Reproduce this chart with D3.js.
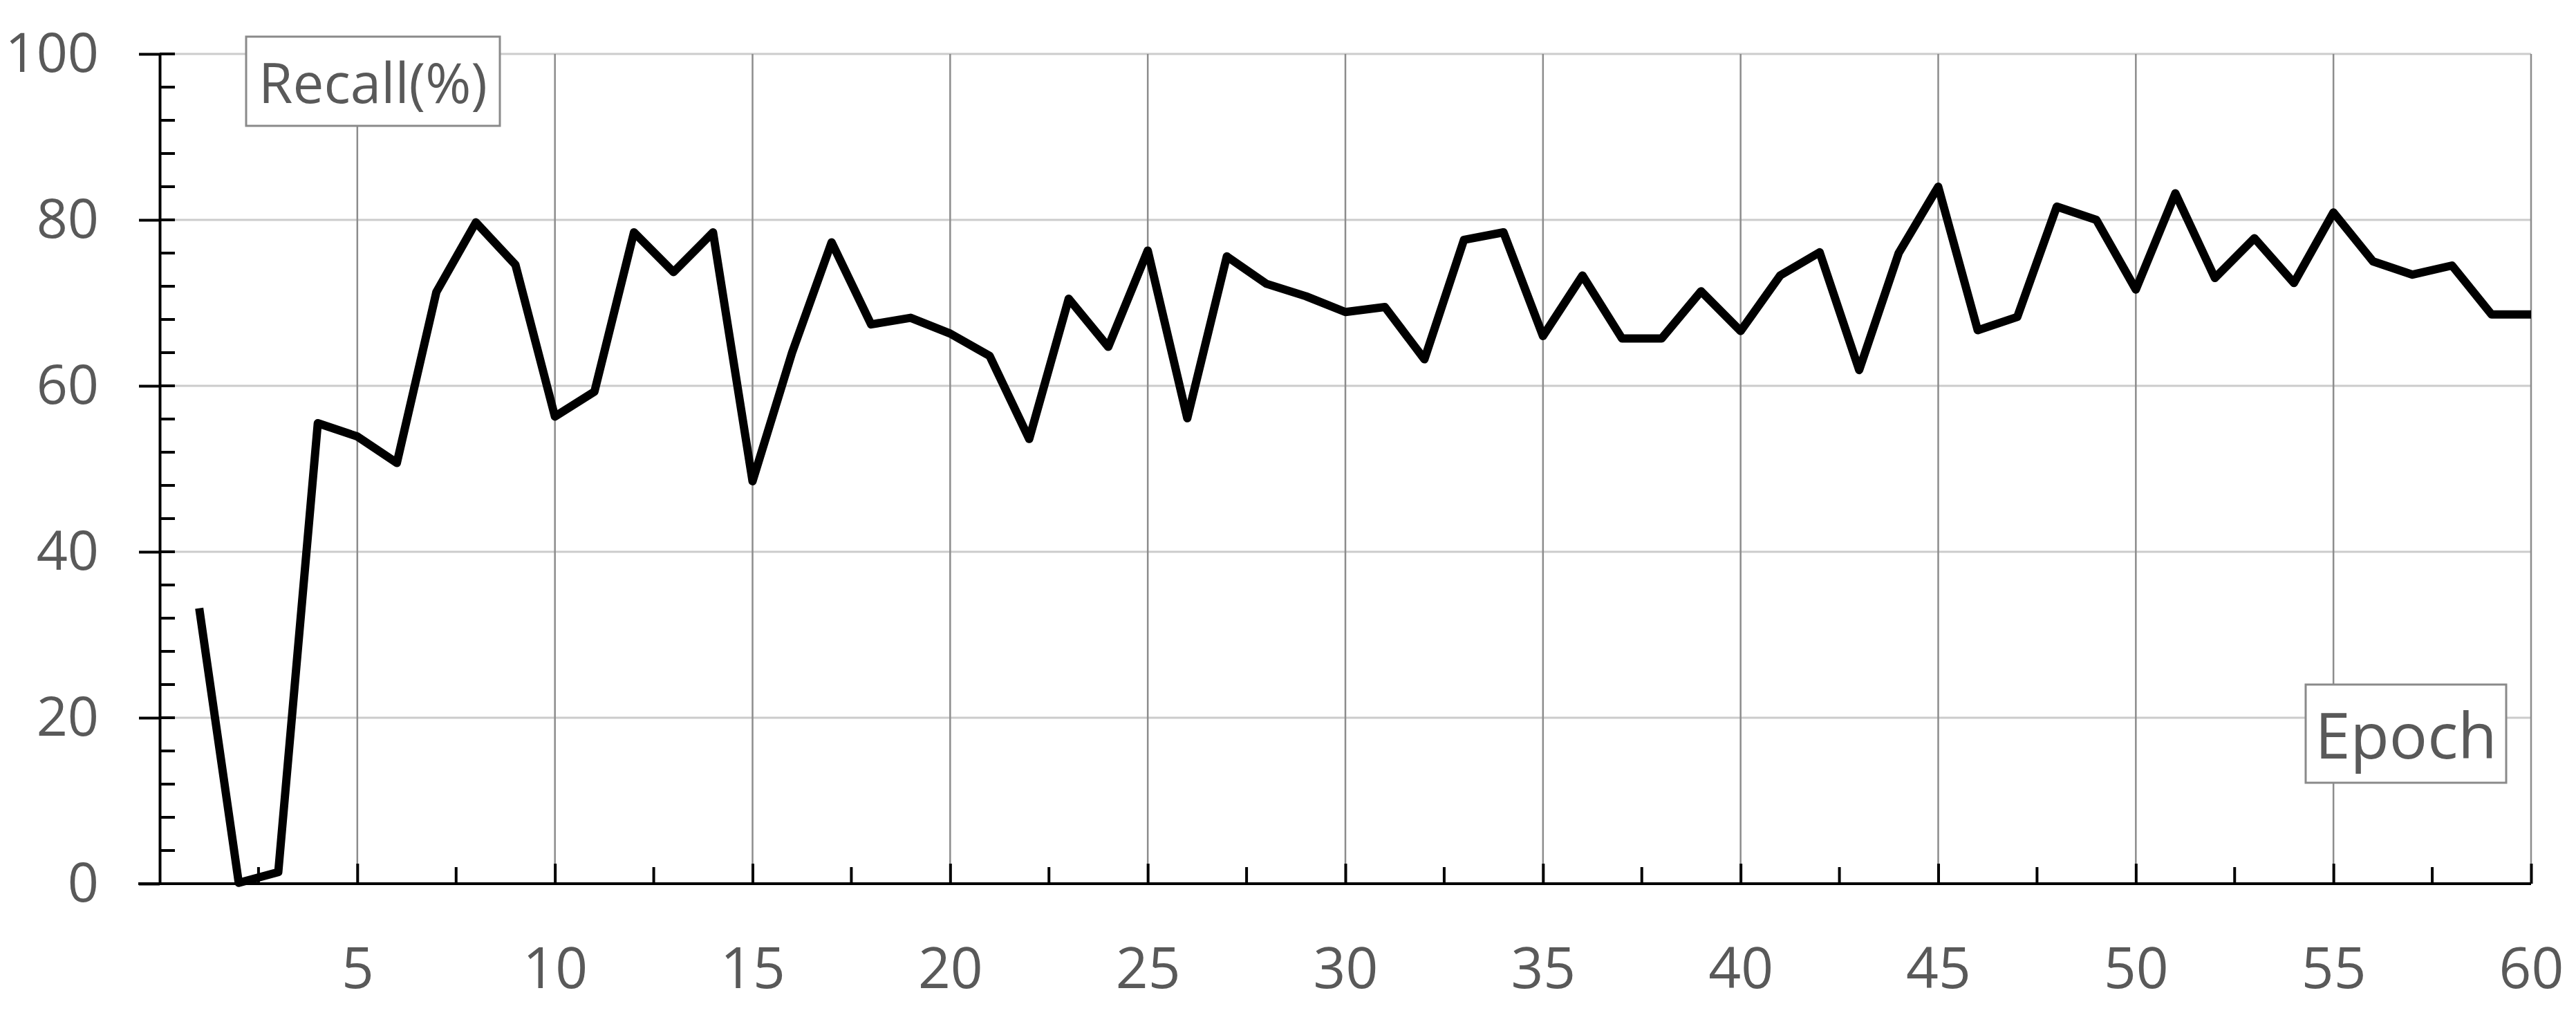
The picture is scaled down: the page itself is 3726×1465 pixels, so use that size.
<!DOCTYPE html>
<html>
<head>
<meta charset="utf-8">
<script src="https://cdn.jsdelivr.net/npm/d3@7"></script>
<style>
  html, body { margin: 0; padding: 0; background: #fff; }
  svg { display: block; }
  text { font-family: "Open Sans", "Noto Sans", sans-serif; fill: #595959; }
</style>
</head>
<body>
<svg id="chart" width="3726" height="1465"></svg>
<script>
// ---- data ----
const epochs = d3.range(1, 61);
const recall = [33.2, 0.1, 1.4, 55.5, 53.9, 50.7, 71.3, 79.7, 74.6, 56.3,
                59.3, 78.5, 73.7, 78.5, 48.5, 64.0, 77.3, 67.4, 68.2, 66.3,
                63.6, 53.6, 70.5, 64.7, 76.3, 56.1, 75.6, 72.3, 70.8, 68.9,
                69.5, 63.2, 77.6, 78.5, 66.0, 73.3, 65.7, 65.7, 71.4, 66.6,
                73.3, 76.1, 61.9, 76.0, 84.0, 66.7, 68.3, 81.6, 80.0, 71.6,
                83.2, 73.0, 77.8, 72.4, 80.9, 75.0, 73.4, 74.5, 68.6, 68.6];
const xMajorTicks = [5, 10, 15, 20, 25, 30, 35, 40, 45, 50, 55, 60];
const xMinorTicks = [2.5, 7.5, 12.5, 17.5, 22.5, 27.5, 32.5, 37.5, 42.5, 47.5, 52.5, 57.5];
const yMajorTicks = [0, 20, 40, 60, 80, 100];
const yMinorTicks = [4, 8, 12, 16, 24, 28, 32, 36, 44, 48, 52, 56, 64, 68, 72, 76, 84, 88, 92, 96];
const yLabel = "Recall(%)";
const xLabel = "Epoch";

// ---- layout ----
const svg = d3.select("#chart");
const x = d3.scaleLinear().domain([0, 60]).range([231, 3661]);
const y = d3.scaleLinear().domain([0, 100]).range([1278, 78]);
const fontStack = '"Open Sans", "Noto Sans", sans-serif';

// horizontal gridlines
svg.append("g").selectAll("line").data(yMajorTicks.filter(v => v > 0)).join("line")
  .attr("x1", x(0)).attr("x2", x(60))
  .attr("y1", d => y(d)).attr("y2", d => y(d))
  .attr("stroke", "#cccccc").attr("stroke-width", 3);

// vertical gridlines
svg.append("g").selectAll("line").data(xMajorTicks).join("line")
  .attr("x1", d => x(d)).attr("x2", d => x(d))
  .attr("y1", y(100)).attr("y2", y(0))
  .attr("stroke", "#8c8c8c").attr("stroke-width", 2.5);

// data line
const line = d3.line().x((d, i) => x(epochs[i])).y(d => y(d));
svg.append("path").datum(recall)
  .attr("d", line)
  .attr("fill", "none").attr("stroke", "#000")
  .attr("stroke-width", 12).attr("stroke-linejoin", "round").attr("stroke-linecap", "butt");

// x axis
const xAxis = d3.axisBottom(x).tickValues(xMajorTicks).tickSize(-29).tickPadding(93).tickSizeOuter(0);
const gx = svg.append("g").attr("transform", `translate(0,${y(0)})`).call(xAxis);
gx.select(".domain").remove();
gx.selectAll(".tick line").attr("stroke", "#000").attr("stroke-width", 4);
gx.selectAll(".tick text").attr("font-size", 82).attr("fill", "#595959").style("font-family", fontStack);
gx.append("g").selectAll("line").data(xMinorTicks).join("line")
  .attr("x1", d => x(d)).attr("x2", d => x(d)).attr("y1", 0).attr("y2", -24)
  .attr("stroke", "#000").attr("stroke-width", 4);
gx.append("line").attr("x1", 200).attr("x2", x(60)).attr("y1", 0).attr("y2", 0)
  .attr("stroke", "#000").attr("stroke-width", 4);

// y axis
const yAxis = d3.axisLeft(y).tickValues(yMajorTicks).tickSize(30).tickPadding(58).tickSizeOuter(0);
const gy = svg.append("g").attr("transform", `translate(${x(0)},0)`).call(yAxis);
gy.select(".domain").attr("stroke", "#000").attr("stroke-width", 4);
gy.selectAll(".tick line").attr("stroke", "#000").attr("stroke-width", 4);
gy.selectAll(".tick text").attr("font-size", 79).attr("fill", "#595959").style("font-family", fontStack);
gy.append("g").selectAll("line").data(yMajorTicks.concat(yMinorTicks)).join("line")
  .attr("x1", 0).attr("x2", 22).attr("y1", d => y(d)).attr("y2", d => y(d))
  .attr("stroke", "#000").attr("stroke-width", 4);

// label boxes
function labelBox(text, bx, by, bw, bh, fs) {
  const g = svg.append("g");
  g.append("rect").attr("x", bx).attr("y", by).attr("width", bw).attr("height", bh)
    .attr("fill", "#fff").attr("stroke", "#8a8a8a").attr("stroke-width", 3);
  g.append("text").attr("x", bx + bw / 2).attr("y", by + bh / 2)
    .attr("text-anchor", "middle").attr("dominant-baseline", "central")
    .attr("font-size", fs).text(text);
}
labelBox(yLabel, 356, 53, 367, 129, 80);
labelBox(xLabel, 3335, 990, 290, 142, 92);
</script>
</body>
</html>
